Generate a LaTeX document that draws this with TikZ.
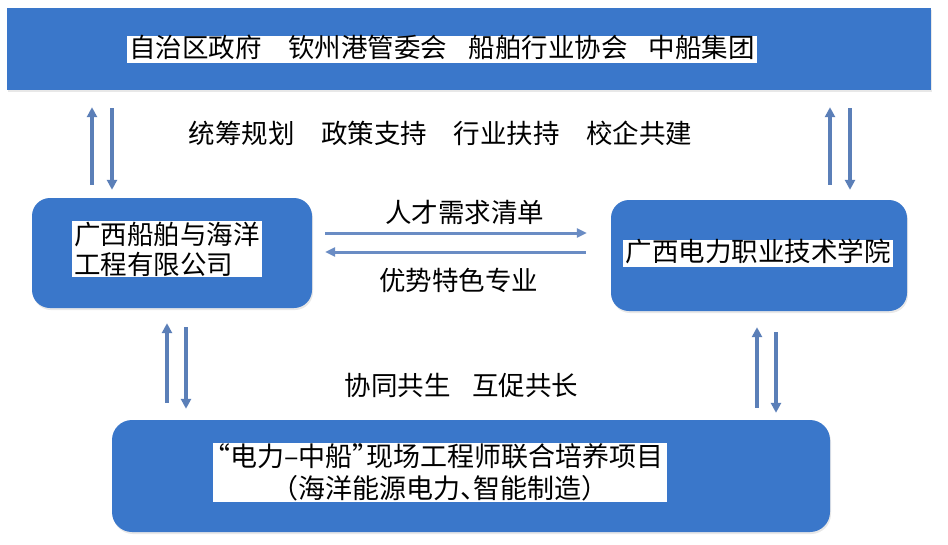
\documentclass[tikz,border=0pt]{standalone}
\usepackage{fontspec}
\setmainfont{Noto Sans CJK SC}
\usetikzlibrary{arrows.meta,shadows}
\definecolor{boxblue}{HTML}{3A77CA}
\definecolor{arrblue}{HTML}{5B7FB8}
\definecolor{harrblue}{HTML}{6A8CC4}
\begin{document}
\begin{tikzpicture}[x=1pt,y=-1pt,
  bluebar/.style={fill=boxblue,draw=none,inner sep=0pt,
    drop shadow={opacity=0.18,shadow xshift=1pt,shadow yshift=-2pt}},
  bluebox/.style={bluebar,rounded corners=18pt},
  whitelabel/.style={fill=white,inner xsep=2.5pt,inner ysep=0.5pt,text=black},
  plainlabel/.style={inner sep=0pt,text=black},
  varr/.style={draw=arrblue,line width=3.4pt,-{Triangle[length=10pt,width=10pt]}},
  harr/.style={draw=harrblue,line width=3pt,-{Triangle[length=10pt,width=9pt]}},
  bigfont/.style={font=\fontsize{26.5}{30}\selectfont},
  midfont/.style={font=\fontsize{27}{32}\selectfont}]
\useasboundingbox (0,0) rectangle (948,544);
\fill[white] (0,0) rectangle (948,544);

% boxes
\node[bluebar,minimum width=924pt,minimum height=82pt] (top) at (469,49) {};
\node[bluebox,minimum width=280pt,minimum height=110pt] (left) at (172,253) {};
\node[bluebox,minimum width=296pt,minimum height=111pt] (right) at (759,255.5) {};
\node[bluebox,rounded corners=20pt,minimum width=718pt,minimum height=112pt] (bottom) at (471,476) {};

% texts in boxes
\node[whitelabel,bigfont,text height=21pt,text depth=5pt] (toptext) at (442,49.5)
  {自治区政府\hspace{1em}钦州港管委会\hspace{0.8em}船舶行业协会\hspace{0.8em}中船集团};
\node[whitelabel,bigfont,align=left] (lefttext) at (167,249)
  {广西船舶与海洋\\工程有限公司};
\node[whitelabel,bigfont,text height=21pt,text depth=5pt] (righttext) at (758,253)
  {广西电力职业技术学院};
\node[whitelabel,midfont,align=center,inner xsep=4pt] (bottomtext) at (440,472.5)
  {\hspace{-0.5em}“电力–中船”\hspace{-0.5em}现场工程师联合培养项目\\（海洋能源电力、\hspace{-0.5em}智能制造）};

% free labels
\node[plainlabel,bigfont] (lab1) at (440.5,133)
  {统筹规划\hspace{1em}政策支持\hspace{1em}行业扶持\hspace{1em}校企共建};
\node[plainlabel,bigfont] (lab2) at (464.5,212) {人才需求清单};
\node[plainlabel,bigfont] (lab3) at (458.5,280) {优势特色专业};
\node[plainlabel,bigfont] (lab4) at (461.5,385) {协同共生\hspace{0.8em}互促共长};

% x / y positions of the connectors
\coordinate (xa) at (92,0);
\coordinate (xb) at (112,0);
\coordinate (xc) at (830,0);
\coordinate (xd) at (850,0);
\coordinate (xe) at (167,0);
\coordinate (xf) at (186,0);
\coordinate (xg) at (757,0);
\coordinate (xh) at (776,0);
\coordinate (ya) at (0,233);
\coordinate (yb) at (0,252);

% top <-> left
\draw[varr,shorten <=13pt,shorten >=17pt] (left.north -| xa) -- (top.south -| xa);
\draw[varr,shorten <=18pt,shorten >=8pt] (top.south -| xb) -- (left.north -| xb);
% top <-> right
\draw[varr,shorten <=15pt,shorten >=17pt] (right.north -| xc) -- (top.south -| xc);
\draw[varr,shorten <=18pt,shorten >=10pt] (top.south -| xd) -- (right.north -| xd);
% left <-> right
\draw[harr,shorten <=13pt,shorten >=24pt] (left.east |- ya) -- (right.west |- ya);
\draw[harr,shorten <=25pt,shorten >=13pt] (right.west |- yb) -- (left.east |- yb);
% left <-> bottom
\draw[varr,shorten <=17pt,shorten >=15pt] (bottom.north -| xe) -- (left.south -| xe);
\draw[varr,shorten <=19pt,shorten >=11pt] (left.south -| xf) -- (bottom.north -| xf);
% right <-> bottom
\draw[varr,shorten <=12pt,shorten >=16pt] (bottom.north -| xg) -- (right.south -| xg);
\draw[varr,shorten <=21pt,shorten >=7pt] (right.south -| xh) -- (bottom.north -| xh);
\end{tikzpicture}
\end{document}
